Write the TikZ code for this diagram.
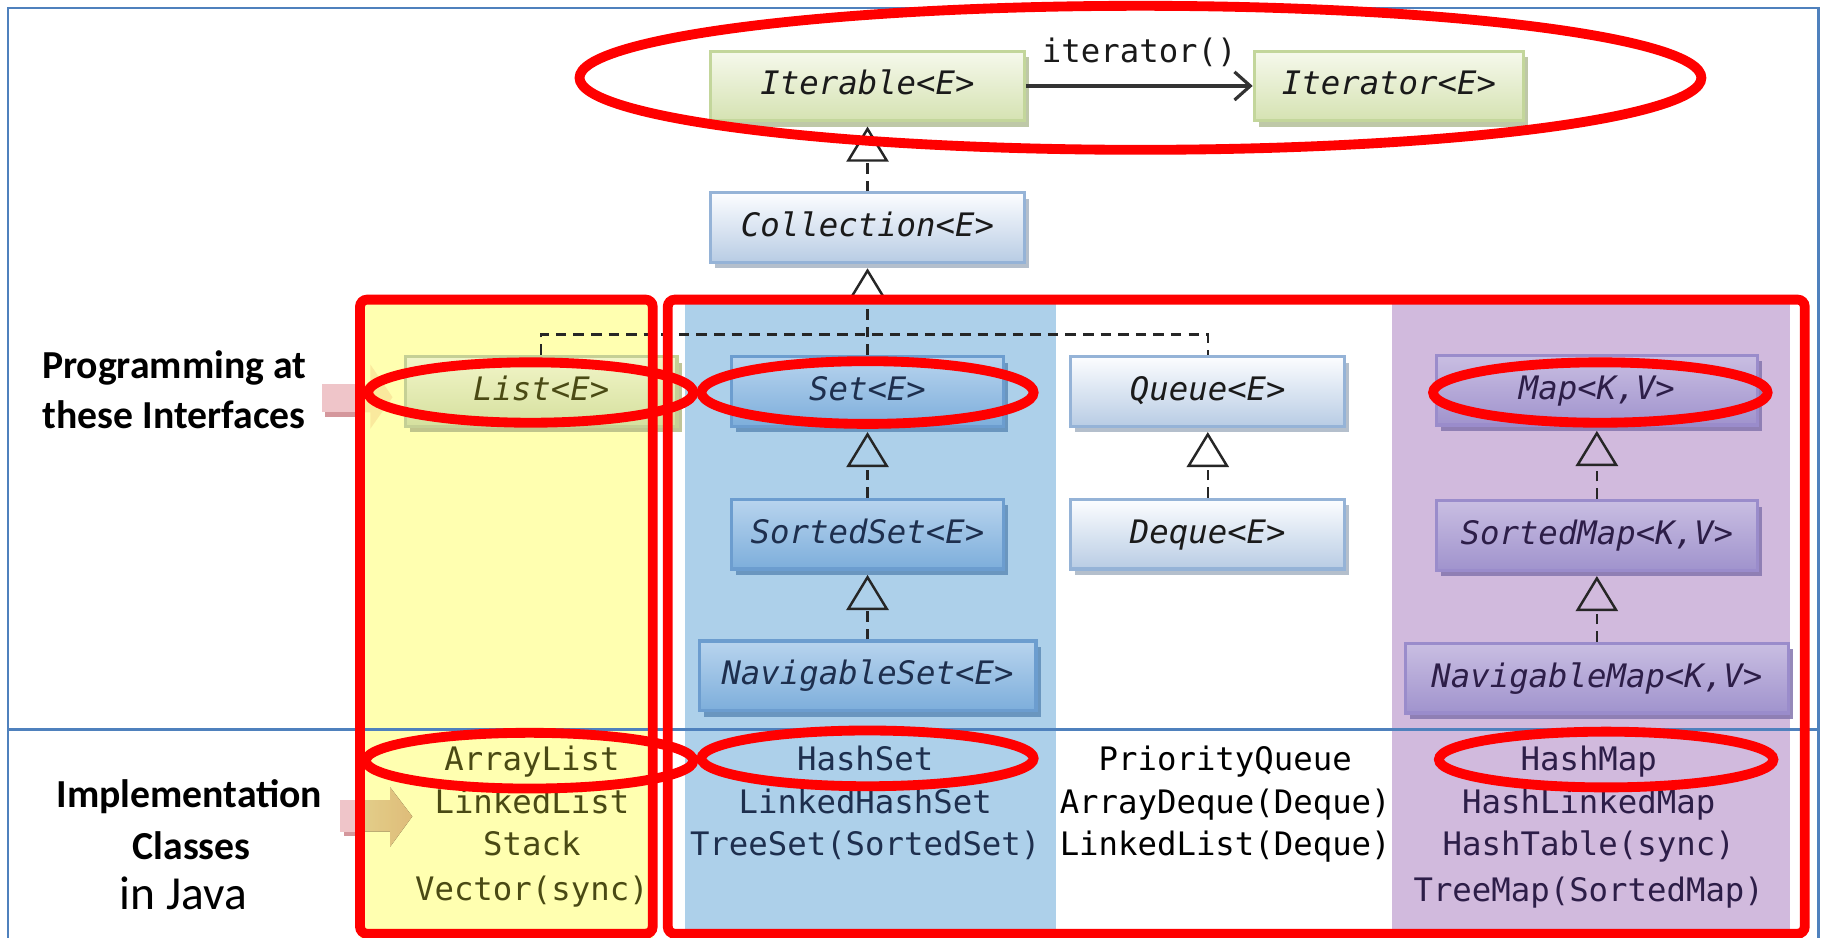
\documentclass[tikz,border=0pt]{standalone}
\usepackage{fontspec}
\setmainfont{Carlito}
\newfontfamily\codefont{DejaVu Sans Mono}
\usetikzlibrary{arrows.meta,shadows}
\newcommand{\PX}{0.116135mm}
\definecolor{frameblue}{HTML}{4F81BD}
\definecolor{markred}{HTML}{FF0000}
\definecolor{colyellow}{HTML}{FFFFB0}
\definecolor{colblue}{HTML}{ADD0EA}
\definecolor{colpurple}{HTML}{D1BADD}
\definecolor{gTop}{HTML}{F6F9EC}
\definecolor{gBot}{HTML}{D5E2B2}
\definecolor{gBorder}{HTML}{C3D69B}
\definecolor{gShadow}{HTML}{B3BF98}
\definecolor{lTop}{HTML}{FCFDFF}
\definecolor{lBot}{HTML}{B8CCE4}
\definecolor{lBorder}{HTML}{95B3D7}
\definecolor{lShadow}{HTML}{A7B4C4}
\definecolor{bTop}{HTML}{B8D4EE}
\definecolor{bBot}{HTML}{7DAEDB}
\definecolor{bBorder}{HTML}{6C9DCF}
\definecolor{bShadow}{HTML}{5F8CB8}
\definecolor{pTop}{HTML}{C9BEE2}
\definecolor{pBot}{HTML}{A093CD}
\definecolor{pBorder}{HTML}{9A8CCB}
\definecolor{pShadow}{HTML}{8475AD}
\definecolor{yTop}{HTML}{F2F5C8}
\definecolor{yBot}{HTML}{D5E09E}
\definecolor{yBorder}{HTML}{C5D095}
\definecolor{yShadow}{HTML}{B5BC86}
\definecolor{txtolive}{HTML}{4A4A14}
\definecolor{txtnavy}{HTML}{1E2F4E}
\definecolor{txtpurple}{HTML}{2D1E48}
\definecolor{txtdark}{HTML}{1A1A1A}
\definecolor{arrowpink}{HTML}{EFC5C9}
\definecolor{arrowpinkdark}{HTML}{D4979C}
\definecolor{arroworange}{HTML}{F2C27A}
\tikzset{
  umlbox/.style={draw, line width=0.9pt, inner sep=0pt, minimum height=60*\PX,
    text height=7pt, text depth=2pt,
    font=\codefont\fontsize{9.2}{11}\selectfont\itshape, text=txtdark},
  shadowed/.style={drop shadow={shadow xshift=1.3pt, shadow yshift=-1.7pt, fill=#1, opacity=0.85}},
  greenbox/.style={umlbox, draw=gBorder, top color=gTop, bottom color=gBot, shadowed=gShadow},
  listbox/.style={umlbox, draw=yBorder, top color=yTop, bottom color=yBot, shadowed=yShadow, text=txtolive},
  lightbox/.style={umlbox, draw=lBorder, top color=lTop, bottom color=lBot, shadowed=lShadow},
  bluebox/.style={umlbox, draw=bBorder, top color=bTop, bottom color=bBot, shadowed=bShadow, text=txtnavy},
  purplebox/.style={umlbox, draw=pBorder, top color=pTop, bottom color=pBot, shadowed=pShadow, text=txtpurple},
  dashline/.style={draw=black!85, line width=0.7pt, dash pattern=on 3pt off 2pt},
  inherit/.style={dashline, shorten >=1.2pt, -{Triangle[open, width=12pt, length=10pt, line width=0.7pt]}},
  assoc/.style={draw=black!80, line width=0.9pt, -{Straight Barb[length=4.5pt, width=8pt, line width=0.9pt]}},
  impl/.style={inner sep=0pt, text height=7pt, text depth=2pt, font=\codefont\fontsize{9.2}{11}\selectfont},
  lbl/.style={inner sep=0pt, font=\bfseries\fontsize{11.3}{13}\selectfont},
  redmark/.style={draw=markred, line width=2.8pt},
  frameline/.style={draw=frameblue, line width=0.7pt},
}
\begin{document}
\begin{tikzpicture}[x=\PX, y=-\PX]
\useasboundingbox (0,0) rectangle (1568,807);
\fill[white] (0,0) rectangle (1568,807);
% column backgrounds
\fill[colyellow] (310,258) rectangle (562,812);
\fill[colblue] (590,261) rectangle (909,812);
\fill[colpurple] (1199,261) rectangle (1541,812);
% block arrows on the left
\fill[arrowpinkdark] (280,334) rectangle (311,359);
\fill[arrowpink] (277,331) rectangle (310,355);
\fill[arroworange, opacity=0.35] (310,331) -- (319,331) -- (319,314) -- (338,342) -- (319,369) -- (319,355) -- (310,355) -- cycle;
\fill[arrowpinkdark] (296,692) rectangle (311,720);
\fill[arrowpink] (293,689) rectangle (310,716);
\fill[left color=arroworange!45!colyellow, right color=arroworange!80!colyellow, opacity=0.9] (310,689) -- (336,689) -- (336,678) -- (355,703) -- (336,729) -- (336,716) -- (310,716) -- cycle;
% frame
\draw[frameline] (7,7) rectangle (1566,840);
\draw[frameline] (7,628) -- (1566,628);
% interface boxes
\node[greenbox, minimum width=270*\PX] (iterable) at (747,74) {Iterable<E>};
\node[greenbox, minimum width=232*\PX] (iterator) at (1196,74) {Iterator<E>};
\node[lightbox, minimum width=270*\PX] (collection) at (747,196) {Collection<E>};
\node[listbox, minimum width=234*\PX] (list) at (466,337) {List<E>};
\node[bluebox, minimum width=234*\PX] (set) at (747,337) {Set<E>};
\node[lightbox, minimum width=236*\PX] (queue) at (1040,337) {Queue<E>};
\node[purplebox, minimum width=276*\PX] (map) at (1375,336) {Map<K,V>};
\node[bluebox, minimum width=234*\PX] (sortedset) at (747,460) {SortedSet<E>};
\node[lightbox, minimum width=236*\PX] (deque) at (1040,460) {Deque<E>};
\node[purplebox, minimum width=276*\PX] (sortedmap) at (1375,461) {SortedMap<K,V>};
\node[bluebox, minimum width=290*\PX] (navset) at (747,582) {NavigableSet<E>};
\node[purplebox, minimum width=330*\PX] (navmap) at (1375,584) {NavigableMap<K,V>};
% connectors
\draw[assoc] (iterable) -- node[above=5pt, inner sep=0pt, font=\codefont\fontsize{9.2}{11}\selectfont, text=txtdark] (itlabel) {iterator()} (iterator);
\draw[inherit] (collection) -- (iterable);
\coordinate (bus) at (747,288);
\draw[dashline] (list.north) |- (bus) -| (queue.north);
\draw[inherit] (set) -- (collection);
\draw[inherit] (sortedset) -- (set);
\draw[inherit] (navset) -- (sortedset);
\draw[inherit] (deque) -- (queue);
\draw[inherit] (sortedmap) -- (map);
\draw[inherit] (navmap) -- (sortedmap);
% implementation classes
\node[impl, text=txtolive] (arraylist) at (458,656) {ArrayList};
\node[impl, text=txtolive] (linkedlist) at (458,693) {LinkedList};
\node[impl, text=txtolive] (stack) at (458,729) {Stack};
\node[impl, text=txtolive] (vector) at (458,768) {Vector(sync)};
\node[impl, text=txtnavy] (hashset) at (745,656) {HashSet};
\node[impl, text=txtnavy] (linkedhashset) at (745,693) {LinkedHashSet};
\node[impl, text=txtnavy] (treeset) at (745,729) {TreeSet(SortedSet)};
\node[impl, text=black] (pqueue) at (1055,656) {PriorityQueue};
\node[impl, text=black] (arraydeque) at (1055,693) {ArrayDeque(Deque)};
\node[impl, text=black] (linkedlistdq) at (1055,729) {LinkedList(Deque)};
\node[impl, text=txtpurple] (hashmap) at (1368,656) {HashMap};
\node[impl, text=txtpurple] (hashlinkedmap) at (1368,693) {HashLinkedMap};
\node[impl, text=txtpurple] (hashtable) at (1368,729) {HashTable(sync)};
\node[impl, text=txtpurple] (treemap) at (1368,769) {TreeMap(SortedMap)};
% left labels
\node[lbl] (prog1) at (150,317) {Programming at};
\node[lbl] (prog2) at (150,357) {these Interfaces};
\node[lbl] (implem) at (163,686) {Implementation};
\node[lbl] (classes) at (165,728) {Classes};
\node[inner sep=0pt, font=\fontsize{13.5}{16}\selectfont] (injava) at (158,769) {in Java};
% red highlights
\draw[redmark, rounded corners=2pt] (310,258) rectangle (562,804);
\draw[redmark, rounded corners=2pt] (575,258) rectangle (1554,804);
\draw[redmark] (982,67) ellipse [x radius=483, y radius=62];
\draw[redmark] (457,338) ellipse [x radius=140, y radius=26];
\draw[redmark] (747,338) ellipse [x radius=143, y radius=27];
\draw[redmark] (1378,338) ellipse [x radius=144, y radius=26];
\draw[redmark] (456,655) ellipse [x radius=141, y radius=24];
\draw[redmark] (747,653) ellipse [x radius=143, y radius=24];
\draw[redmark] (1383,654) ellipse [x radius=144, y radius=24];
\end{tikzpicture}
\end{document}
